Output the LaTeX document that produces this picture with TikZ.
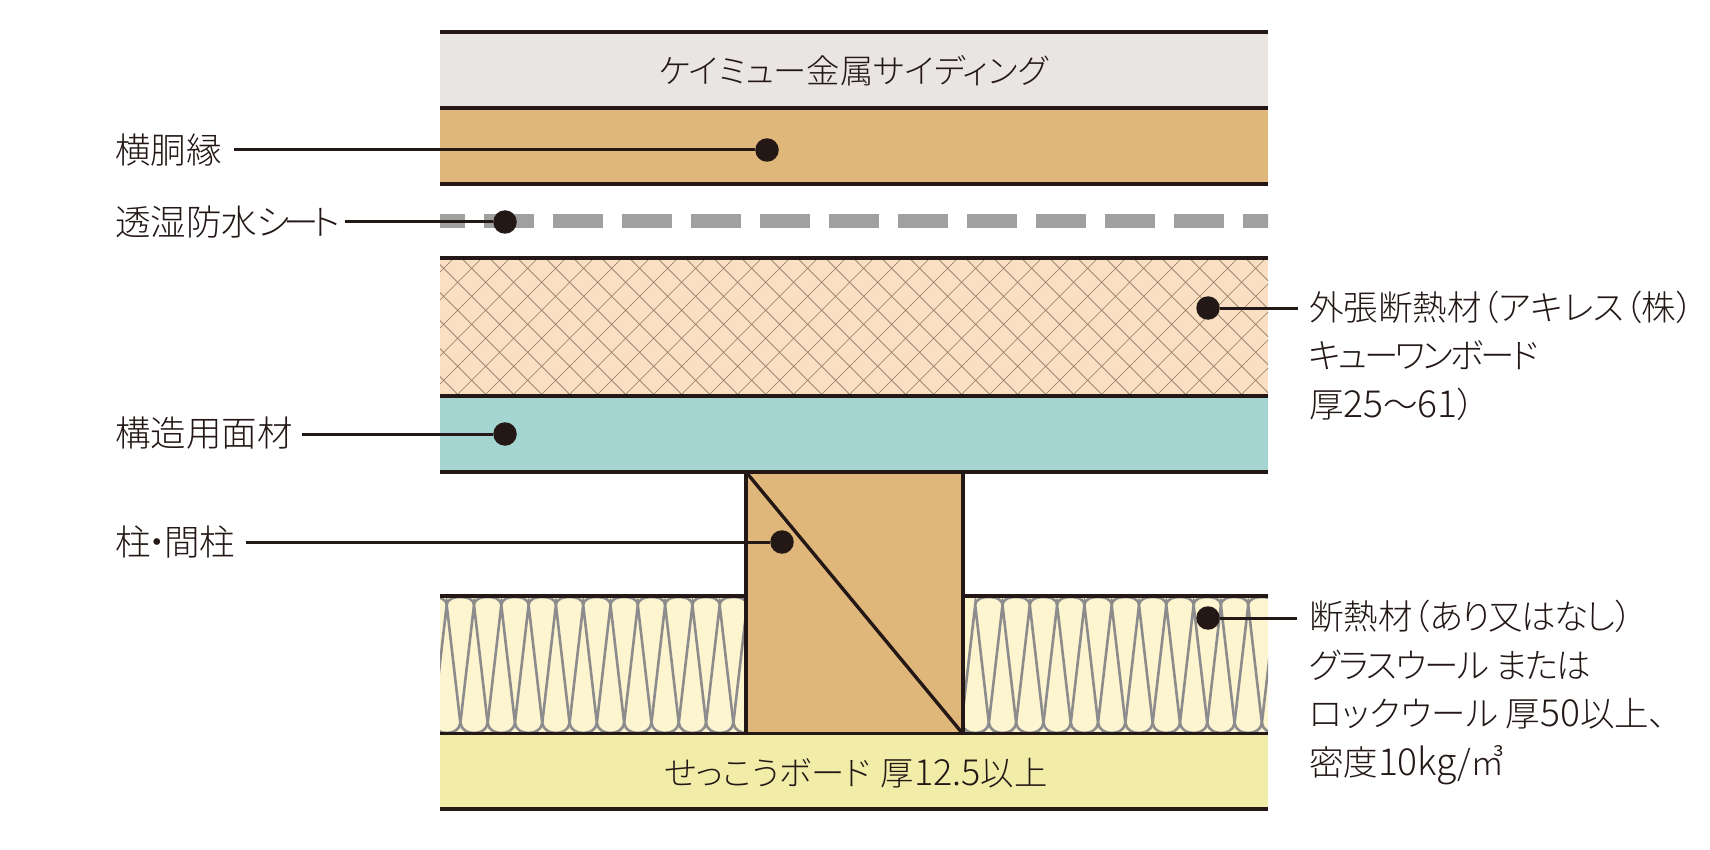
\documentclass[tikz,border=0pt]{standalone}
\usepackage{fontspec}
\setmainfont{Noto Sans CJK JP Light}[RawFeature=+palt]
\newfontfamily\hv{Noto Sans CJK JP Light}[Scale=1.08]
\newfontfamily\kn{Noto Sans CJK JP Light}[RawFeature=+palt,LetterSpace=-9]
\newfontfamily\kt{Noto Sans CJK JP Light}[RawFeature=+palt,LetterSpace=-5]
\definecolor{ink}{HTML}{231815}
\definecolor{metalc}{HTML}{E8E5E2}
\definecolor{woodc}{HTML}{E0B77B}
\definecolor{foamc}{HTML}{FADFC2}
\definecolor{tealc}{HTML}{A5D5D1}
\definecolor{woolc}{HTML}{FDF4D0}
\definecolor{gypc}{HTML}{F1EDA9}
\definecolor{sheetc}{HTML}{A0A0A0}
\definecolor{woolline}{HTML}{8C8C8C}
\definecolor{hatchc}{HTML}{8F7A64}
\tikzset{
  edge/.style={draw=ink,line width=3.4pt},
  leader/.style={draw=ink,line width=3pt},
  dot/.style={circle,fill=ink,draw=none,minimum size=23.5pt,inner sep=0pt},
  lbl/.style={inner sep=0pt,outer sep=0pt,text=ink,anchor=west,text height=30pt,text depth=4pt,font=\fontsize{35.5}{48.5}\selectfont},
  mlbl/.style={inner sep=0pt,outer sep=0pt,text=ink,anchor=north west,align=left,font=\fontsize{34.5}{48.5}\selectfont},
  midlbl/.style={inner sep=0pt,outer sep=0pt,text=ink,text height=30pt,text depth=4pt,font=\fontsize{33.3}{40}\selectfont},
  wool/.style={draw=woolline,line width=2.6pt},
  hatchline/.style={draw=hatchc,line width=0.6pt}
}
\newcommand{\woolcell}[1]{%
  \draw[wool] (#1-27.3,723) -- ++(13.65,-118) -- ++(13.65,118)
    (#1-13.65,605) .. controls (#1-12.6,598) and (#1-6,597) .. (#1,597)
      .. controls (#1+6,597) and (#1+12.6,598) .. (#1+13.65,605)
    (#1-27.3,723) .. controls (#1-26.3,730) and (#1-20,733) .. (#1-13.65,733)
      .. controls (#1-7.3,733) and (#1-1,730) .. (#1,723);
}
\begin{document}
\begin{tikzpicture}[x=1pt,y=-1pt]
\useasboundingbox (0,0) rectangle (1710,850);
\fill[white] (0,0) rectangle (1710,850);
% bands
\fill[metalc] (440,32) rectangle (1268,108);
\fill[woodc] (440,108) rectangle (1268,184);
\fill[foamc] (440,258) rectangle (1268,396);
\fill[tealc] (440,396) rectangle (1268,472);
\fill[woolc] (440,596) rectangle (746,734);
\fill[woolc] (963,596) rectangle (1268,734);
\fill[gypc] (440,734) rectangle (1268,809);
\fill[woodc] (746,472) rectangle (963,734);
% foam hatch
\begin{scope}
\clip (440,258) rectangle (1268,396);
\foreach \k in {-2,...,36} {
  \draw[hatchline] (740+28*\k-258,258) -- (740+28*\k-396,396);
  \draw[hatchline] (203.4+28*\k+258-28*7,258) -- (203.4+28*\k+396-28*7,396);
}
\end{scope}
% wool left
\begin{scope}
\clip (440,596) rectangle (746,734);
\foreach \k in {-1,...,12} { \woolcell{460.35+27.3*\k} }
\end{scope}
% wool right
\begin{scope}
\clip (963,596) rectangle (1268,734);
\foreach \k in {-5,...,7} { \woolcell{1125.35+27.3*\k} }
\end{scope}
% vapour sheet
\begin{scope}
\clip (440,214) rectangle (1268,228);
\foreach \k in {-1,0,...,11} { \fill[sheetc] (484+69*\k,214) rectangle (534+69*\k,228); }
\end{scope}
% lines
\foreach \yy in {32,108,184,258,396,472,733.5,809} { \draw[edge] (440,\yy) -- (1268,\yy); }
\draw[edge] (440,596) -- (746,596) (963,596) -- (1268,596);
\draw[edge] (746,472) -- (746,734) (963,472) -- (963,734);
\draw[edge] (746,472) -- (963,734);
% texts in bands
\node[midlbl] (metal) at (853.5,71) {ケイミュー金属サイディング};
\node[midlbl] (gyp) at (856,772) {せっこうボード\kern10pt 厚{\hv 12.5}以上};
% labels
\node[lbl] (lA) at (115,151) {横胴縁};
\node[lbl] (lB) at (115,223) {透湿防水シ\kern-6pt ー\kern-6pt ト};
\node[lbl] (lC) at (115,433) {構造用面材};
\node[lbl] (lD) at (115,542) {柱\kern-2pt ・\kern-2pt 間柱};
\node[mlbl] (lE) at (1309,291) {外張断熱材（アキレス（株）\\{\kn キューワンボード}\\厚{\hv 25}〜{\hv 61}）};
\node[mlbl] (lF) at (1309,600.5) {断熱材（{\kt あり又はなし}）\\{\kt グラスウール または}\\ロックウール 厚{\hv 50}以上、\\密度{\hv 10kg}/㎥};
% dots and leaders
\node[dot] (dA) at (767,150) {};
\node[dot] (dB) at (505,222) {};
\node[dot] (dC) at (505,434) {};
\node[dot] (dD) at (782,542) {};
\node[dot] (dE) at (1208,308) {};
\node[dot] (dF) at (1208,618) {};
\coordinate (cA) at (234,150);
\coordinate (cB) at (345,222);
\coordinate (cC) at (302,434);
\coordinate (cD) at (245.5,542);
\coordinate (cE) at (1298,308);
\coordinate (cF) at (1297,618);
\draw[leader] (cA) -- (dA);
\draw[leader] (cB) -- (dB);
\draw[leader] (cC) -- (dC);
\draw[leader] (cD) -- (dD);
\draw[leader] (cE) -- (dE);
\draw[leader] (cF) -- (dF);
\end{tikzpicture}
\end{document}
